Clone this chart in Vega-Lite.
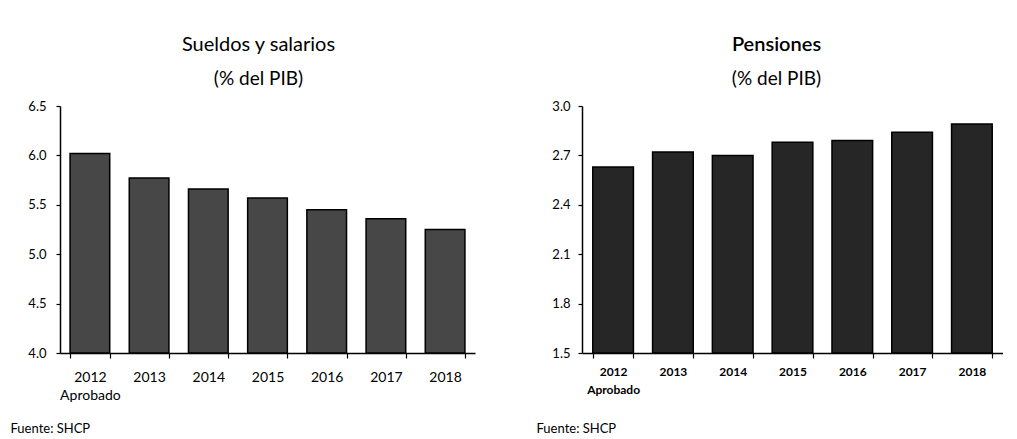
{
  "$schema": "https://vega.github.io/schema/vega-lite/v6.json",
  "background": "white",
  "padding": {"left": 10, "top": 35, "right": 0, "bottom": 0},
  "spacing": 61,
  "config": {
    "font": "Lato",
    "view": {"stroke": null},
    "title": {"fontSize": 20, "fontWeight": "normal", "color": "black", "subtitleFontSize": 19, "subtitleColor": "black", "subtitlePadding": 15, "offset": 11, "anchor": "middle", "font": "Lato", "subtitleFont": "Lato"},
    "axis": {"domainColor": "black", "tickColor": "black", "labelColor": "black", "grid": false, "domainWidth": 1.5, "tickWidth": 1.2, "labelFont": "Lato", "titleFont": "Lato"}
  },
  "datasets": {
    "sueldos": [
      {"anio": "2012|Aprobado", "valor": 6.02},
      {"anio": "2013", "valor": 5.77},
      {"anio": "2014", "valor": 5.66},
      {"anio": "2015", "valor": 5.57},
      {"anio": "2016", "valor": 5.45},
      {"anio": "2017", "valor": 5.36},
      {"anio": "2018", "valor": 5.25}
    ],
    "pensiones": [
      {"anio": "2012|Aprobado", "valor": 2.63},
      {"anio": "2013", "valor": 2.72},
      {"anio": "2014", "valor": 2.70},
      {"anio": "2015", "valor": 2.78},
      {"anio": "2016", "valor": 2.79},
      {"anio": "2017", "valor": 2.84},
      {"anio": "2018", "valor": 2.89}
    ]
  },
  "hconcat": [
    {
      "width": 415,
      "height": 247,
      "title": {"text": "Sueldos y salarios", "subtitle": "(% del PIB)", "dx": -9},
      "data": {"name": "sueldos"},
      "mark": {"type": "bar", "fill": "#474747", "stroke": "black", "strokeWidth": 1.5},
      "encoding": {
        "x": {
          "field": "anio", "type": "nominal", "sort": null,
          "scale": {"paddingInner": 0.33, "paddingOuter": 0.17},
          "axis": {
            "title": "Fuente: SHCP", "titleAnchor": "start", "titleAlign": "left", "titleBaseline": "middle", "titleX": -50, "titleY": 75,
            "titleFontSize": 13, "titleFontWeight": "normal", "titleColor": "black",
            "labelAngle": 0, "labelFontSize": 14, "labelPadding": 12, "tickBand": "extent", "tickSize": 5,
            "labelExpr": "split(datum.label, '|')", "labelLineHeight": 18
          }
        },
        "y": {
          "field": "valor", "type": "quantitative",
          "scale": {"domain": [4.0, 6.5], "nice": false, "zero": false},
          "axis": {"title": null, "values": [4.0, 4.5, 5.0, 5.5, 6.0, 6.5], "format": ".1f", "labelFontSize": 13, "tickSize": 4, "labelPadding": 10}
        },
        "y2": {"datum": 4.0}
      }
    },
    {
      "width": 421,
      "height": 247,
      "title": {"text": "Pensiones", "subtitle": "(% del PIB)", "dx": -16, "fontWeight": 600},
      "data": {"name": "pensiones"},
      "mark": {"type": "bar", "fill": "#262626", "stroke": "black", "strokeWidth": 1.5},
      "encoding": {
        "x": {
          "field": "anio", "type": "nominal", "sort": null,
          "scale": {"paddingInner": 0.32, "paddingOuter": 0.18},
          "axis": {
            "title": "Fuente: SHCP", "titleAnchor": "start", "titleAlign": "left", "titleBaseline": "middle", "titleX": -46, "titleY": 75,
            "titleFontSize": 13, "titleFontWeight": "normal", "titleColor": "black",
            "labelAngle": 0, "labelFontSize": 12, "labelFontWeight": "bold", "labelPadding": 8, "tickBand": "extent", "tickSize": 5,
            "labelExpr": "split(datum.label, '|')", "labelLineHeight": 18
          }
        },
        "y": {
          "field": "valor", "type": "quantitative",
          "scale": {"domain": [1.5, 3.0], "nice": false, "zero": false},
          "axis": {"title": null, "values": [1.5, 1.8, 2.1, 2.4, 2.7, 3.0], "format": ".1f", "labelFontSize": 13, "tickSize": 4, "labelPadding": 8}
        },
        "y2": {"datum": 1.5}
      }
    }
  ]
}
